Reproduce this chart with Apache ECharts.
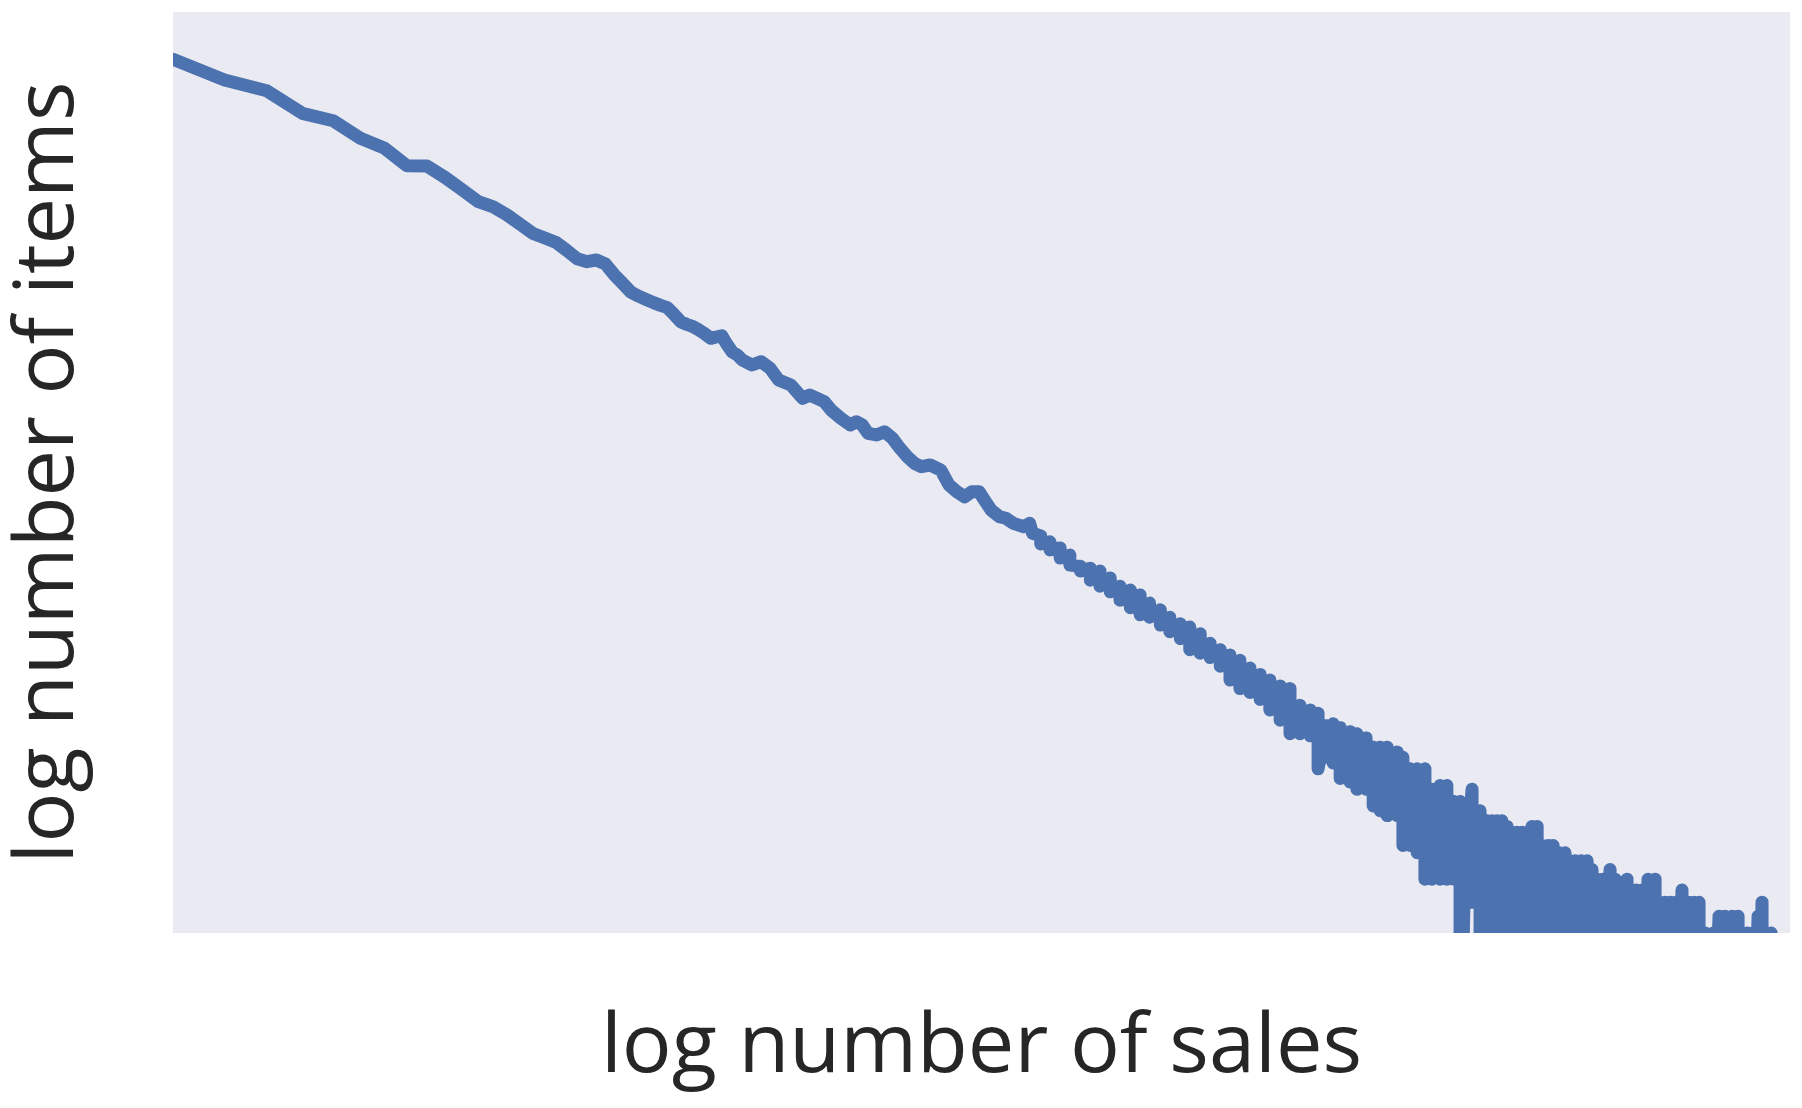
<!DOCTYPE html>
<html>
<head>
<meta charset="utf-8">
<script src="https://cdn.jsdelivr.net/npm/echarts@6/dist/echarts.min.js"></script>
<style>
  html, body { margin: 0; padding: 0; background: #ffffff; }
  #chart { width: 1802px; height: 1108px; }
</style>
</head>
<body>
<div id="chart"></div>
<script>
// ---- Data ----
// Axis limits (log scales, no tick labels shown)
const salesRange = [4, 4379];
const itemsRange = [5, 115860];

// Low-sales region: one value per sales count (a single clean line)
const salesSmooth = [4,5,6,7,8,9,10,11,12,13,14,15,16,17,18,19,20,21,22,23,24,25,26,27,28,29,30,31,32,33,34,35,36,37,38,39,40,41,42,43,44,45,46,47,
  49,51,53,55,58,61,63,67,69,72,75,77,79,81,84,87,90,93,96,99,102,106,111,115,119,123,127,131,134,138,143,147,152,159,163,165];
const itemsSmooth = [69150,55170,49070,38340,35370,29200,26180,21650,21580,19010,16600,14620,13800,12630,11400,10330,9835,9365,8580,7840,7595,7735,7405,6595,5995,5455,5215,5030,4860,4715,4600,4265,3945,3827,3736,3604,3451,3292,3339,3386,3076,2835,2744,2598,
  2460,2550,2374,2089,1978,1711,1773,1648,1506,1375,1278,1325,1278,1167,1146,1188,1106,991,904,841,811,826,782,664,617,584,617,617,564,505,470,462,437,421,437,392];

// High-sales region: the counts scatter, so the highest and lowest counts seen
// around each sales value are recorded (1 = a count below the visible floor)
const salesBand = [171,178,186,194,203,212,221,231,241,252,263,274,287,299,313,326,341,356,372,388,405,423,442,461,482,503,525,549,568,588,606,625,652,672,699,721,743,766,800,820,846,872,902,930,963,992,1023,1050,1078,1106,1145,1180,1206,1232,1259,1287,1315,1344,1373,1403,1434,1466,1498,1537,1571,1612,1654,1691,1727,1773,1820,1859,1900,1950,2010,2054,2099,2163,2201,2249,2308,2369,2442,2496,2550,2606,2674,2744,2817,2891,2954,3032,3139,3221,3306,3408,3498,3574,3636,3732,3814,3880,3948,4035];
const itemsBandHigh = [381,357,334,309,274,268,260,241,220,211,200,183,170,157,146,141,131,118,110,104,98,90,84,79,74,72,60,57,55,48,49,47,45,44,42,38,38,38,36,34,30,30,30,24,25,25,21,21,20,24,19,17,17,17,17,16,15,15,15,15,16,16,13,13,13,12,12,11,11,11,11,10,9,9,10,9,8,9,8,8,8,9,9,7,7,7,7,8,7,7,7,5,5,6,6,6,6,5,5,5,6,7,5,5];
const itemsBandLow = [349,327,299,277,260,235,220,207,189,174,161,157,144,134,124,110,106,101,92,79,72,69,64,57,51,44,44,43,30,34,32,27,26,24,24,20,19,18,18,13,13,12,9,9,9,9,9,1,9,7,1,1,1,1,1,1,1,1,1,1,1,1,1,1,1,1,1,1,1,1,1,1,1,1,1,1,1,1,1,1,1,1,1,1,1,1,1,1,1,1,1,1,1,1,1,1,1,1,1,1,1,1,1,1];

// ---- Build the line from the arrays ----
const lineData = salesSmooth.map((s, i) => [s, itemsSmooth[i]]);
salesBand.forEach((s, i) => {
  lineData.push([s, itemsBandHigh[i]]);
  lineData.push([s, itemsBandLow[i]]);
});

const labelFont = { fontFamily: 'Open Sans', fontSize: 83, color: '#262626', fontWeight: 'normal' };

const chart = echarts.init(document.getElementById('chart'), null, { renderer: 'canvas' });
chart.setOption({
  animation: false,
  backgroundColor: '#ffffff',
  grid: { left: 173, top: 12, right: 12, bottom: 175, show: true, backgroundColor: '#EAEAF2', borderWidth: 0, containLabel: false },
  xAxis: {
    type: 'log', logBase: 10, min: salesRange[0], max: salesRange[1],
    axisLine: { show: false }, axisTick: { show: false }, axisLabel: { show: false }, splitLine: { show: false },
    name: 'log number of sales', nameLocation: 'middle', nameGap: 74,
    nameTextStyle: labelFont
  },
  yAxis: {
    type: 'log', logBase: 10, min: itemsRange[0], max: itemsRange[1],
    axisLine: { show: false }, axisTick: { show: false }, axisLabel: { show: false }, splitLine: { show: false },
    name: 'log number of items', nameLocation: 'middle', nameGap: 82, nameRotate: 90,
    nameTextStyle: labelFont
  },
  // white masks so the thick stroke is cut exactly at the plot edges
  graphic: [
    { type: 'rect', z: 100, silent: true, shape: { x: 140, y: 0, width: 33, height: 960 }, style: { fill: '#ffffff' } },
    { type: 'rect', z: 100, silent: true, shape: { x: 140, y: 933, width: 1662, height: 22 }, style: { fill: '#ffffff' } }
  ],
  series: [{
    type: 'line', data: lineData, showSymbol: false, symbol: 'none', clip: true, silent: true,
    lineStyle: { color: '#4C72B0', width: 13, cap: 'round', join: 'round' }
  }]
});
</script>
</body>
</html>
